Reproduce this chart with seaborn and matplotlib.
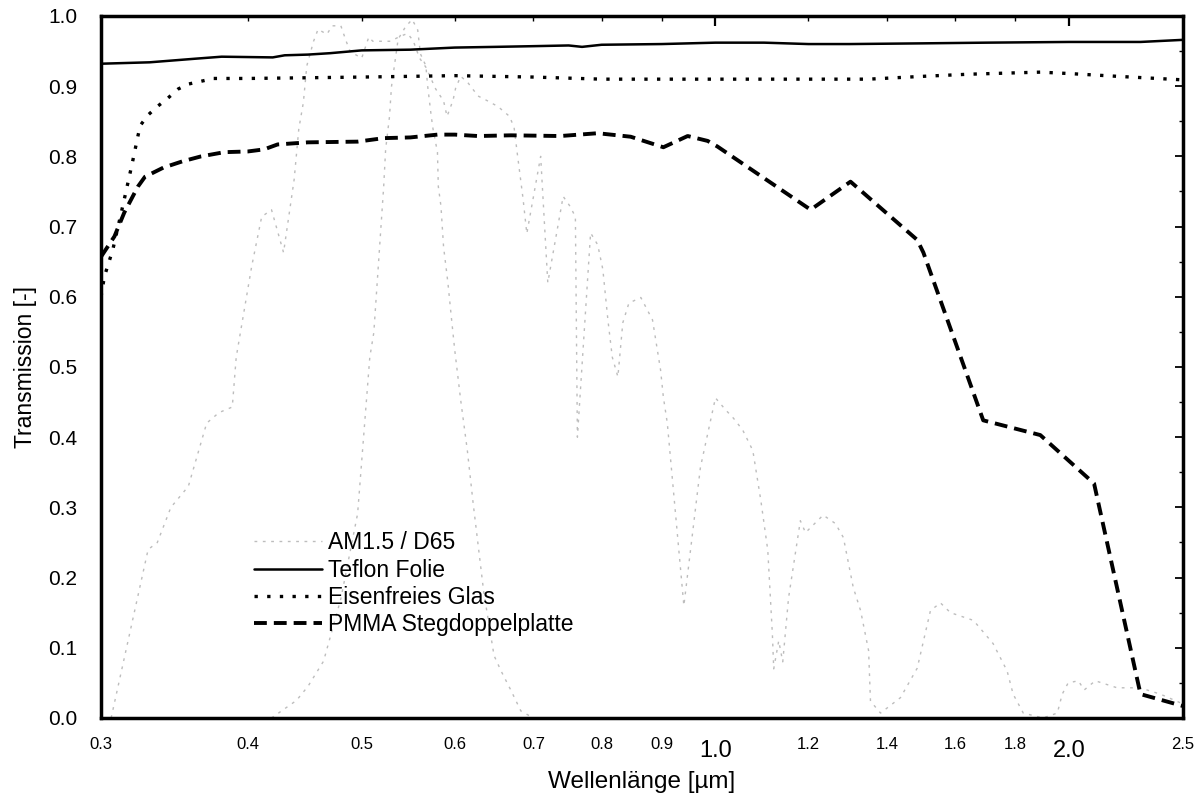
import matplotlib
matplotlib.use("Agg")
import matplotlib.pyplot as plt
import seaborn as sns
from matplotlib.ticker import FixedLocator, FixedFormatter

# AM1.5 spectrum (normalised)
am_x = [0.306, 0.329, 0.335, 0.344, 0.356, 0.369, 0.378, 0.388, 0.391, 0.403,
        0.411, 0.419, 0.429, 0.438, 0.442, 0.446, 0.449, 0.455, 0.459, 0.467,
        0.472, 0.480, 0.485, 0.489, 0.500, 0.507, 0.511, 0.529, 0.539, 0.547,
        0.553, 0.560, 0.567, 0.578, 0.587, 0.591, 0.598, 0.601, 0.607, 0.615,
        0.628, 0.640, 0.653, 0.668, 0.674, 0.678, 0.686, 0.691, 0.710, 0.720,
        0.742, 0.752, 0.760, 0.763, 0.783, 0.794, 0.802, 0.810, 0.817, 0.826,
        0.834, 0.844, 0.864, 0.884, 0.898, 0.903, 0.910, 0.940, 0.971, 1.000,
        1.020, 1.036, 1.055, 1.076, 1.093, 1.108, 1.118, 1.121, 1.132, 1.141,
        1.154, 1.181, 1.193, 1.235, 1.265, 1.285, 1.310, 1.329, 1.350, 1.355,
        1.382, 1.437, 1.485, 1.524, 1.554, 1.585, 1.658, 1.723, 1.771, 1.792,
        1.828, 1.900, 1.954, 1.973, 1.996, 2.036, 2.060, 2.105, 2.197, 2.298,
        2.391, 2.500]
am_y = [0.000, 0.240, 0.250, 0.300, 0.330, 0.420, 0.435, 0.443, 0.514, 0.643,
        0.714, 0.724, 0.663, 0.767, 0.839, 0.877, 0.929, 0.964, 0.981, 0.974,
        0.986, 0.986, 0.964, 0.949, 0.940, 0.970, 0.964, 0.964, 0.971, 0.975,
        0.965, 0.940, 0.927, 0.896, 0.879, 0.857, 0.880, 0.897, 0.914, 0.906,
        0.886, 0.879, 0.871, 0.857, 0.841, 0.806, 0.739, 0.690, 0.800, 0.620,
        0.743, 0.729, 0.714, 0.400, 0.691, 0.674, 0.639, 0.567, 0.514, 0.486,
        0.563, 0.591, 0.599, 0.567, 0.496, 0.457, 0.420, 0.160, 0.357, 0.456,
        0.439, 0.427, 0.410, 0.381, 0.310, 0.239, 0.120, 0.070, 0.110, 0.080,
        0.171, 0.281, 0.264, 0.289, 0.277, 0.257, 0.186, 0.153, 0.096, 0.024,
        0.007, 0.029, 0.071, 0.153, 0.164, 0.150, 0.139, 0.106, 0.067, 0.034,
        0.007, 0.000, 0.007, 0.034, 0.050, 0.053, 0.040, 0.053, 0.043, 0.043,
        0.034, 0.020]

# D65 weighted curve (normalised)
d65_x = [0.419, 0.440, 0.450, 0.464, 0.480, 0.496, 0.508, 0.512, 0.522, 0.524,
         0.528, 0.530, 0.537, 0.545, 0.552, 0.558, 0.561, 0.567, 0.569, 0.573,
         0.575, 0.580, 0.581, 0.584, 0.587, 0.592, 0.596, 0.600, 0.607, 0.615,
         0.622, 0.635, 0.648, 0.657, 0.670, 0.683, 0.700]
d65_y = [0.000, 0.025, 0.045, 0.081, 0.170, 0.291, 0.514, 0.549, 0.757, 0.810,
         0.857, 0.899, 0.967, 0.985, 0.995, 0.980, 0.946, 0.929, 0.900, 0.857,
         0.839, 0.806, 0.757, 0.729, 0.671, 0.620, 0.571, 0.524, 0.453, 0.381,
         0.306, 0.180, 0.089, 0.067, 0.039, 0.010, 0.000]

teflon_x = [0.30, 0.33, 0.36, 0.38, 0.42, 0.43, 0.45, 0.47, 0.50, 0.55, 0.60,
            0.65, 0.70, 0.75, 0.77, 0.80, 0.90, 1.00, 1.10, 1.20, 1.30, 1.50,
            1.70, 2.00, 2.30, 2.50]
teflon_y = [0.932, 0.934, 0.939, 0.942, 0.941, 0.944, 0.945, 0.947, 0.951, 0.952,
            0.955, 0.956, 0.957, 0.958, 0.956, 0.959, 0.960, 0.962, 0.962, 0.960,
            0.960, 0.961, 0.962, 0.963, 0.963, 0.966]

glas_x = [0.300, 0.302, 0.307, 0.314, 0.319, 0.3225, 0.324, 0.329, 0.335, 0.342,
          0.349, 0.356, 0.365, 0.374, 0.40, 0.45, 0.50, 0.55, 0.60, 0.70, 0.80,
          0.90, 1.00, 1.20, 1.35, 1.50, 1.64, 1.80, 1.89, 2.00, 2.20, 2.50]
glas_y = [0.600, 0.629, 0.667, 0.739, 0.791, 0.829, 0.844, 0.859, 0.871, 0.883,
          0.896, 0.903, 0.907, 0.911, 0.911, 0.912, 0.913, 0.914, 0.915, 0.913,
          0.910, 0.910, 0.910, 0.910, 0.910, 0.914, 0.917, 0.919, 0.920, 0.918,
          0.914, 0.909]

pmma_x = [0.300, 0.308, 0.314, 0.3225, 0.327, 0.339, 0.352, 0.365, 0.382, 0.400,
          0.413, 0.424, 0.450, 0.496, 0.522, 0.550, 0.580, 0.600, 0.628, 0.670,
          0.738, 0.794, 0.847, 0.903, 0.947, 0.985, 1.004, 1.205, 1.303, 1.485,
          1.503, 1.690, 1.890, 2.100, 2.300, 2.500]
pmma_y = [0.657, 0.686, 0.720, 0.757, 0.771, 0.784, 0.793, 0.800, 0.806, 0.807,
          0.810, 0.817, 0.820, 0.821, 0.826, 0.827, 0.831, 0.831, 0.829, 0.830,
          0.829, 0.833, 0.828, 0.813, 0.829, 0.822, 0.814, 0.724, 0.764, 0.681,
          0.663, 0.424, 0.403, 0.334, 0.034, 0.017]

minor_ticks = [0.3, 0.4, 0.5, 0.6, 0.7, 0.8, 0.9, 1.2, 1.4, 1.6, 1.8, 2.5]
minor_labels = ["0.3", "0.4", "0.5", "0.6", "0.7", "0.8", "0.9",
                "1.2", "1.4", "1.6", "1.8", "2.5"]
major_ticks = [1.0, 2.0]
major_labels = ["1.0", "2.0"]

sns.set_style("white")
plt.rcParams['font.family'] = ['Liberation Sans', 'DejaVu Sans']
plt.rcParams['text.color'] = 'black'
plt.rcParams['axes.labelcolor'] = 'black'

fig, ax = plt.subplots(figsize=(12.04, 8.07), dpi=100)
fig.subplots_adjust(left=0.0839, right=0.9826, bottom=0.1103, top=0.9802)

grey = "#bdbdbd"
sns.lineplot(x=am_x, y=am_y, ax=ax, color=grey, linewidth=1.0,
             linestyle=(0, (2, 4)), label="AM1.5 / D65")
sns.lineplot(x=d65_x, y=d65_y, ax=ax, color=grey, linewidth=1.0,
             linestyle=(0, (2, 4)), label="_nolegend_")
sns.lineplot(x=teflon_x, y=teflon_y, ax=ax, color="black", linewidth=1.8,
             label="Teflon Folie")
sns.lineplot(x=glas_x, y=glas_y, ax=ax, color="black", linewidth=2.4,
             linestyle=(0, (1, 2.8)), label="Eisenfreies Glas")
sns.lineplot(x=pmma_x, y=pmma_y, ax=ax, color="black", linewidth=2.8,
             linestyle=(0, (3.3, 1.8)), label="PMMA Stegdoppelplatte")

ax.set_xscale("log")
ax.set_xlim(0.3, 2.5)
ax.set_ylim(0.0, 1.0)

ax.xaxis.set_major_locator(FixedLocator(major_ticks))
ax.xaxis.set_major_formatter(FixedFormatter(major_labels))
ax.xaxis.set_minor_locator(FixedLocator(minor_ticks))
ax.xaxis.set_minor_formatter(FixedFormatter(minor_labels))
ax.yaxis.set_major_locator(FixedLocator([i / 10 for i in range(11)]))
ax.yaxis.set_major_formatter(FixedFormatter([f"{i / 10:.1f}" for i in range(11)]))
ax.yaxis.set_minor_locator(FixedLocator([i / 20 for i in range(1, 20, 2)]))

ax.tick_params(axis="both", which="both", direction="in", top=True, right=True,
               color="black", labelcolor="black")
ax.tick_params(axis="y", which="major", length=6, width=1.3, labelsize=15, pad=17)
ax.tick_params(axis="y", which="minor", length=3, width=1.0)
ax.tick_params(axis="x", which="major", length=7, width=1.6, labelsize=17, pad=16)
ax.tick_params(axis="x", which="minor", length=3.5, width=1.0, labelsize=12, pad=14)

for side in ax.spines.values():
    side.set_visible(True)
    side.set_color("black")
    side.set_linewidth(2.5)

ax.set_xlabel("Wellenlänge [µm]", fontsize=17.5, labelpad=6, color="black")
ax.set_ylabel("Transmission [-]", fontsize=16.5, labelpad=8, color="black")

leg = ax.legend(loc="upper left", bbox_to_anchor=(0.141, 0.266), frameon=False,
                fontsize=16.5, handlelength=3.0, handletextpad=0.26,
                labelspacing=0.19, borderpad=0, borderaxespad=0)
for t in leg.get_texts():
    t.set_color("black")

fig.savefig("out.png", dpi=100)
